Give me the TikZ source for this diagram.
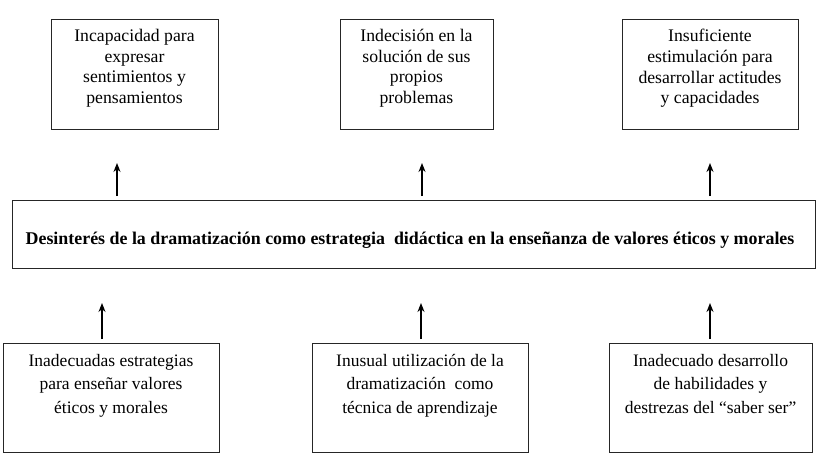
\documentclass[tikz,border=0pt]{standalone}
\usepackage{fontspec}
\setmainfont{Liberation Serif}
\usetikzlibrary{arrows.meta}
\begin{document}
\begin{tikzpicture}[x=1pt,y=-1pt,
  box/.style={draw=black!85,line width=0.9pt,minimum width=#1,inner sep=0pt},
  toptext/.style={align=center,inner sep=0pt,anchor=north,font=\fontsize{17.7}{20.7}\selectfont},
  bottext/.style={align=center,inner sep=0pt,anchor=north,font=\fontsize{17.5}{23.5}\selectfont},
  arr/.style={-{Stealth[length=9pt,width=7pt]},line width=1.3pt}]
\useasboundingbox (0,0) rectangle (829,458);
% top boxes
\node[box=167pt,minimum height=110pt] (t1) at (134.5,74) {};
\node[box=153pt,minimum height=110pt] (t2) at (416.5,74) {};
\node[box=176pt,minimum height=110pt] (t3) at (710,74) {};
\node[toptext] (tt1) at (134.5,29) {Incapacidad para\\expresar\\sentimientos y\\pensamientos};
\node[toptext] (tt2) at (416.5,29) {Indecisión en la\\solución de sus\\propios\\problemas};
\node[toptext] (tt3) at (710,29) {Insuficiente\\estimulación para\\desarrollar actitudes\\y capacidades};
% main box
\node[box=803pt,minimum height=68pt] (m) at (413.5,234) {};
\node[font=\fontsize{17.9}{20}\selectfont\bfseries,inner sep=0pt] (mt) at (410,240) {Desinterés de la dramatización como estrategia\ \ didáctica en la enseñanza de valores éticos y morales};
% bottom boxes
\node[box=216pt,minimum height=109pt] (b1) at (111,397.5) {};
\node[box=216pt,minimum height=109pt] (b2) at (420,397.5) {};
\node[box=203pt,minimum height=109pt] (b3) at (710.5,397.5) {};
\node[bottext] (bt1) at (111,354) {Inadecuadas estrategias\\para enseñar valores\\éticos y morales};
\node[bottext] (bt2) at (420,354) {Inusual utilización de la\\dramatización\ \ como\\técnica de aprendizaje};
\node[bottext] (bt3) at (710.5,354) {Inadecuado desarrollo\\de habilidades y\\destrezas del “saber ser”};
% arrows
\coordinate (a1s) at (117,196); \coordinate (a1e) at (117,163);
\coordinate (a2s) at (422,196); \coordinate (a2e) at (422,163);
\coordinate (a3s) at (710,196); \coordinate (a3e) at (710,163);
\coordinate (c1s) at (102,339); \coordinate (c1e) at (102,303);
\coordinate (c2s) at (421,339); \coordinate (c2e) at (421,303);
\coordinate (c3s) at (710,339); \coordinate (c3e) at (710,303);
\draw[arr] (a1s) -- (a1e);
\draw[arr] (a2s) -- (a2e);
\draw[arr] (a3s) -- (a3e);
\draw[arr] (c1s) -- (c1e);
\draw[arr] (c2s) -- (c2e);
\draw[arr] (c3s) -- (c3e);
\end{tikzpicture}
\end{document}
